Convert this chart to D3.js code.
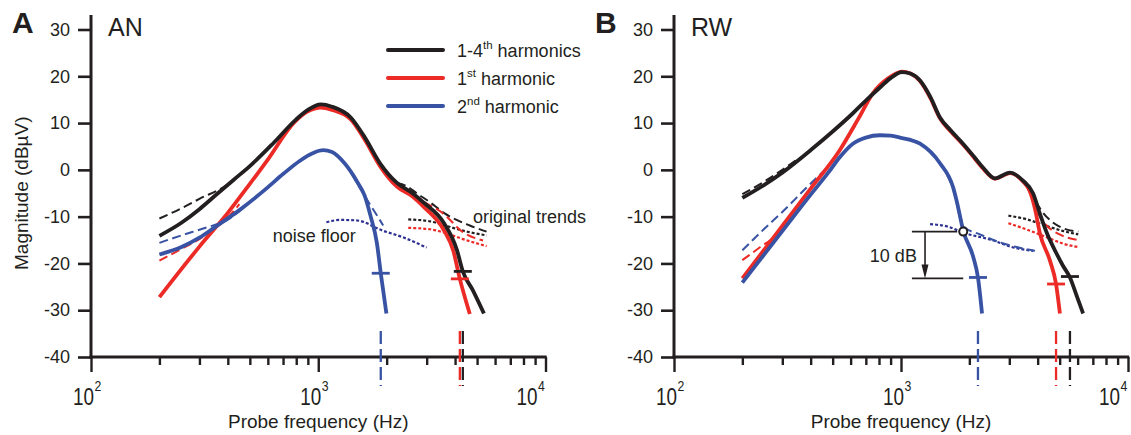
<!DOCTYPE html>
<html><head><meta charset="utf-8">
<script src="https://cdn.jsdelivr.net/npm/d3@7"></script>
<style>
body{margin:0;background:#fff;}
svg{display:block;font-family:"Liberation Sans",Arial,Helvetica,sans-serif;}
</style>
</head><body>
<script>
// ---------- axis ticks ----------
const freqMajor = [100, 1000, 10000];
const freqMinor = [200,300,400,500,600,700,800,900,2000,3000,4000,5000,6000,7000,8000,9000];
const freqExponents = ["2","3","4"];
const dBTicks = [30,20,10,0,-10,-20,-30,-40];
const panelLetters = ["A","B"];
const panelNames = ["AN","RW"];
const legendLabels = [["1-4","th"," harmonics"],["1","st"," harmonic"],["2","nd"," harmonic"]];

// ---------- panel A (AN) : [frequency Hz, magnitude dBµV] ----------
const anAll = [[200,-14.1],[250,-11.3],[300,-8.4],[350,-5.6],[425,-2.1],[500,0.8],[637,5.8],[800,10.8],[900,12.8],[1026,14],[1150,13.5],[1390,11.2],[1600,7],[1870,1.4],[2220,-2.8],[2600,-5],[2911,-7],[3565,-11.3],[4074,-17.1],[4327,-21.7],[4798,-25.8],[5358,-30.7]];
const anFirst = [[200,-27.2],[300,-16.4],[400,-9.2],[500,-3],[600,2.2],[782,10.1],[900,12.5],[1026,13.3],[1150,12.8],[1390,10.8],[1600,6.5],[1870,0.8],[2220,-3.6],[2600,-5.7],[2911,-7.9],[3565,-12.8],[3929,-17.3],[4198,-23.3],[4645,-30.8]];
const anSecond = [[200,-18.1],[250,-16.5],[300,-14.5],[350,-12.3],[453,-8.5],[594,-3.9],[700,-0.9],[828,1.9],[950,3.6],[1050,4.2],[1150,3.8],[1300,1.5],[1494,-2.8],[1600,-5.5],[1702,-10],[1811,-15.6],[1884,-22.1],[1995,-30.7]];
const anAllTrendL = [[200,-10.4],[250,-8.2],[300,-6.2],[394,-3.3],[450,-1.1]];
const anAllTrendR = [[2220,-2.8],[2455,-3.5],[2712,-5],[3097,-6.9],[3600,-9.3],[4645,-11.9],[5505,-13.2]];
const anFirstTrendL = [[200,-19.4],[250,-16.9],[300,-14.8],[350,-12.6],[400,-10.2],[450,-7.3]];
const anFirstTrendR = [[2300,-4.2],[2604,-5.4],[2900,-6.8],[3540,-9.3],[4330,-13.3],[5310,-15.1]];
const anSecondTrendL = [[200,-15.6],[250,-14],[323,-12.3],[408,-10.4],[470,-8]];
const anSecondTrendR = [[1400,-0.8],[1574,-5],[1720,-8],[1871,-10.8],[1930,-11.9]];
const anAllNoise = [[2489,-10.6],[3100,-11],[3680,-12],[4330,-13],[5505,-14]];
const anFirstNoise = [[2489,-12.4],[3100,-12.7],[3680,-13.6],[4330,-14.8],[5505,-16.3]];
const anSecondNoise = [[1086,-11.2],[1250,-10.7],[1473,-10.8],[1923,-13],[2355,-14.4],[2998,-16.6]];
const anCutoffs = [[1884,-22.1],[4198,-23.3],[4327,-21.7]]; // 2nd, 1st, 1-4th

// ---------- panel B (RW) ----------
const rwAll = [[200,-6],[250,-3.2],[300,-0.6],[409,4.6],[500,8.2],[614,12.1],[700,14.8],[808,17.6],[900,19.6],[1009,20.9],[1100,20.6],[1213,19.1],[1350,15.5],[1485,11.2],[1650,8.5],[1876,5.6],[2100,2.8],[2297,0.5],[2594,-1.8],[3021,-0.6],[3447,-2.3],[3816,-5],[4100,-9.5],[4400,-13.6],[4800,-17.5],[5170,-20.5],[5550,-23],[5950,-27],[6340,-30.7]];
const rwFirst = [[200,-23.2],[300,-12],[400,-4],[537,4.2],[650,11],[753,16.4],[880,19.6],[1009,21],[1100,20.6],[1213,19],[1350,15.3],[1485,11],[1650,8.3],[1876,5.4],[2100,2.6],[2297,0.3],[2594,-1.9],[3021,-0.7],[3447,-2.5],[3698,-4.6],[3900,-8.5],[4093,-13.6],[4530,-19.4],[4820,-24.4],[5012,-30.7]];
const rwSecond = [[200,-24.1],[300,-13.1],[400,-5.3],[480,-0.5],[537,2.7],[614,5.6],[700,6.9],[808,7.4],[900,7.3],[990,6.9],[1213,5.6],[1485,1.4],[1698,-3.8],[1758,-6.6],[1880,-13],[2083,-18.7],[2183,-23],[2275,-30.7]];
const rwAllTrendL = [[200,-5.2],[250,-2.5],[300,0],[350,2.3]];
const rwAllTrendR = [[3700,-4.2],[3900,-6.5],[4200,-9],[4600,-11],[5200,-12.5],[6040,-13.2]];
const rwFirstTrendL = [[200,-19.3],[240,-16.5],[273,-14.5],[300,-12.2]];
const rwFirstTrendR = [[3600,-3.8],[3900,-7.5],[4090,-10],[4380,-11.9],[5000,-13.8],[6040,-15]];
const rwSecondTrendL = [[200,-17.2],[250,-12.6],[300,-9],[380,-4],[473,0.5]];
const rwSecondTrendR = [[1600,-1.2],[1700,-4.2],[1800,-9],[1900,-12.2],[2228,-13.8],[2729,-15.5],[3300,-16.6],[3890,-17.3]];
const rwAllNoise = [[2972,-9.8],[3600,-10.6],[4380,-12],[5200,-13.1],[6040,-13.8]];
const rwFirstNoise = [[2972,-11.4],[3600,-12.8],[4380,-14.4],[5200,-15.8],[6040,-16.5]];
const rwSecondNoise = [[1343,-11.6],[1600,-12.1],[1880,-13.4],[2553,-15.1],[3126,-16.6],[3827,-17.3]];
const rwCutoffs = [[2183,-23],[4820,-24.4],[5550,-22.8]];

// annotation in panel B (noise-floor crossing and 10 dB drop)
const rwCrossing = [1880,-13.2];
const dropDB = 10;

// ---------- styling ----------
const BLACK="#231f20", RED="#ec2a26", BLUE="#3953a4", NAVY="#2e3192";
const FONT = '"Liberation Sans",Arial,Helvetica,sans-serif';

const W=1131, H=435;
const svg = d3.select("body").append("svg").attr("width",W).attr("height",H);

const y = d3.scaleLinear().domain([-40,30]).range([357,29.5]);
const panelRanges = [[91,545.5],[674,1128]];
const panelData = [
  {all:anAll, first:anFirst, second:anSecond, allTL:anAllTrendL, allTR:anAllTrendR, firstTL:anFirstTrendL, firstTR:anFirstTrendR, secondTL:anSecondTrendL, secondTR:anSecondTrendR, allN:anAllNoise, firstN:anFirstNoise, secondN:anSecondNoise, cut:anCutoffs},
  {all:rwAll, first:rwFirst, second:rwSecond, allTL:rwAllTrendL, allTR:rwAllTrendR, firstTL:rwFirstTrendL, firstTR:rwFirstTrendR, secondTL:rwSecondTrendL, secondTR:rwSecondTrendR, allN:rwAllNoise, firstN:rwFirstNoise, secondN:rwSecondNoise, cut:rwCutoffs}
];

panelData.forEach((P, pi) => {
  const x = d3.scaleLog().domain([100,10000]).range(panelRanges[pi]);
  const g = svg.append("g");
  const line = d3.line().x(d=>x(d[0])).y(d=>y(d[1])).curve(d3.curveMonotoneX);
  const x0 = x(100), yAx = y(-40);

  // y axis
  const yAxis = d3.axisLeft(y).tickValues(dBTicks).tickSize(13).tickPadding(8).tickFormat(d=>String(d));
  const ya = g.append("g").attr("transform",`translate(${x0},0)`).call(yAxis);
  ya.select(".domain").remove();
  ya.selectAll(".tick line").attr("stroke",BLACK).attr("stroke-width",2.6);
  ya.selectAll(".tick text").attr("font-size",18).attr("font-family",FONT).attr("fill",BLACK);
  g.append("line").attr("x1",x0).attr("x2",x0).attr("y1",15).attr("y2",yAx+1.5).attr("stroke",BLACK).attr("stroke-width",3);

  // x axis
  const xAxis = d3.axisBottom(x).tickValues(freqMajor.concat(freqMinor)).tickSize(7).tickFormat("");
  const xa = g.append("g").attr("transform",`translate(0,${yAx})`).call(xAxis);
  xa.select(".domain").remove();
  xa.selectAll(".tick line").attr("stroke",BLACK).attr("stroke-width",2.4)
    .attr("y2", d => freqMajor.includes(d) ? 15 : 8);
  g.append("line").attr("x1",x0-1.5).attr("x2",x(10000)+1.2).attr("y1",yAx).attr("y2",yAx).attr("stroke",BLACK).attr("stroke-width",3);

  freqMajor.forEach((f,i) => {
    const off = i===2 ? -8 : 3;
    g.append("text").attr("transform",`translate(${x(f)+off},405) scale(0.82,1)`)
      .attr("text-anchor","end").attr("font-size",23).attr("fill",BLACK).text("10");
    g.append("text").attr("transform",`translate(${x(f)+off+0.5},391) scale(0.82,1)`)
      .attr("text-anchor","start").attr("font-size",15).attr("fill",BLACK).text(freqExponents[i]);
  });
  g.append("text").attr("x",x(1000)).attr("y",428).attr("text-anchor","middle")
    .attr("font-size",19).attr("fill",BLACK).text("Probe frequency (Hz)");

  // panel letter and name
  g.append("text").attr("x",x0-79).attr("y",33).attr("font-size",30).attr("font-weight","bold").attr("fill",BLACK).text(panelLetters[pi]);
  g.append("text").attr("x",x0+17).attr("y",36).attr("font-size",25).attr("fill",BLACK).text(panelNames[pi]);

  // dotted noise floors
  [[P.allN,BLACK],[P.firstN,RED],[P.secondN,NAVY]].forEach(([d,c]) => {
    g.append("path").attr("d",line(d)).attr("fill","none").attr("stroke",c)
      .attr("stroke-width",2.2).attr("stroke-dasharray","3,2");
  });
  // dashed original trends
  [[P.allTL,BLACK],[P.allTR,BLACK],[P.firstTL,RED],[P.firstTR,RED],[P.secondTL,BLUE],[P.secondTR,BLUE]].forEach(([d,c]) => {
    g.append("path").attr("d",line(d)).attr("fill","none").attr("stroke",c)
      .attr("stroke-width",2).attr("stroke-dasharray","9,4.5");
  });
  // solid curves
  [[P.first,RED],[P.second,BLUE],[P.all,BLACK]].forEach(([d,c]) => {
    g.append("path").attr("d",line(d)).attr("fill","none").attr("stroke",c)
      .attr("stroke-width",3.8).attr("stroke-linejoin","round");
  });
  // cutoff markers and vertical dashed lines
  const cutColors = [BLUE,RED,BLACK];
  P.cut.forEach((d,i) => {
    g.append("line").attr("x1",x(d[0])).attr("x2",x(d[0])).attr("y1",yAx-26).attr("y2",yAx+29)
      .attr("stroke",cutColors[i]).attr("stroke-width",2.3).attr("stroke-dasharray","13,5");
    g.append("line").attr("x1",x(d[0])-9).attr("x2",x(d[0])+9).attr("y1",y(d[1])).attr("y2",y(d[1]))
      .attr("stroke",cutColors[i]).attr("stroke-width",2.8);
  });

  if (pi===0) {
    // y label
    svg.append("text").attr("transform",`translate(28,${(y(30)+y(-40))/2}) rotate(-90)`)
      .attr("text-anchor","middle").attr("font-size",19).attr("fill",BLACK).text("Magnitude (dBµV)");
    // legend
    const legColors = [BLACK,RED,BLUE];
    legendLabels.forEach((lab,i) => {
      const ly = 50 + i*28;
      g.append("line").attr("x1",388).attr("x2",443).attr("y1",ly).attr("y2",ly)
        .attr("stroke",legColors[i]).attr("stroke-width",4).attr("stroke-linecap","round");
      const t = g.append("text").attr("x",457).attr("y",ly+6.5).attr("font-size",18).attr("fill",BLACK);
      t.append("tspan").text(lab[0]);
      t.append("tspan").attr("dy",-7.5).attr("font-size",11.5).text(lab[1]);
      t.append("tspan").attr("dy",7.5).text(lab[2]);
    });
    g.append("text").attr("x",x(631)).attr("y",y(-15.5)).attr("font-size",18).attr("fill",BLACK).text("noise floor");
    g.append("text").attr("x",x(4800)).attr("y",y(-11.4)).attr("font-size",18).attr("fill",BLACK).text("original trends");
  } else {
    // 10 dB annotation
    const fStart = 1117, fArrow = 1276, fText = 1175;
    const yTop = y(rwCrossing[1]), yBot = y(rwCrossing[1]-dropDB);
    g.append("line").attr("x1",x(fStart)).attr("x2",x(rwCrossing[0])-6).attr("y1",yTop).attr("y2",yTop).attr("stroke",BLACK).attr("stroke-width",1.6);
    g.append("line").attr("x1",x(fStart)).attr("x2",x(rwCrossing[0])).attr("y1",yBot).attr("y2",yBot).attr("stroke",BLACK).attr("stroke-width",1.6);
    const ax = x(fArrow);
    g.append("line").attr("x1",ax).attr("x2",ax).attr("y1",yTop).attr("y2",yBot-12).attr("stroke",BLACK).attr("stroke-width",1.6);
    g.append("path").attr("d",`M${ax-3.5},${yBot-14}L${ax+3.5},${yBot-14}L${ax},${yBot}Z`).attr("fill",BLACK);
    g.append("text").attr("x",x(fText)).attr("y",y(rwCrossing[1]-dropDB/2)+6.5).attr("text-anchor","end")
      .attr("font-size",18).attr("fill",BLACK).text("10 dB");
    g.append("circle").attr("cx",x(rwCrossing[0])).attr("cy",yTop).attr("r",4)
      .attr("fill","#fff").attr("stroke",BLACK).attr("stroke-width",2);
  }
});
</script>
</body></html>
